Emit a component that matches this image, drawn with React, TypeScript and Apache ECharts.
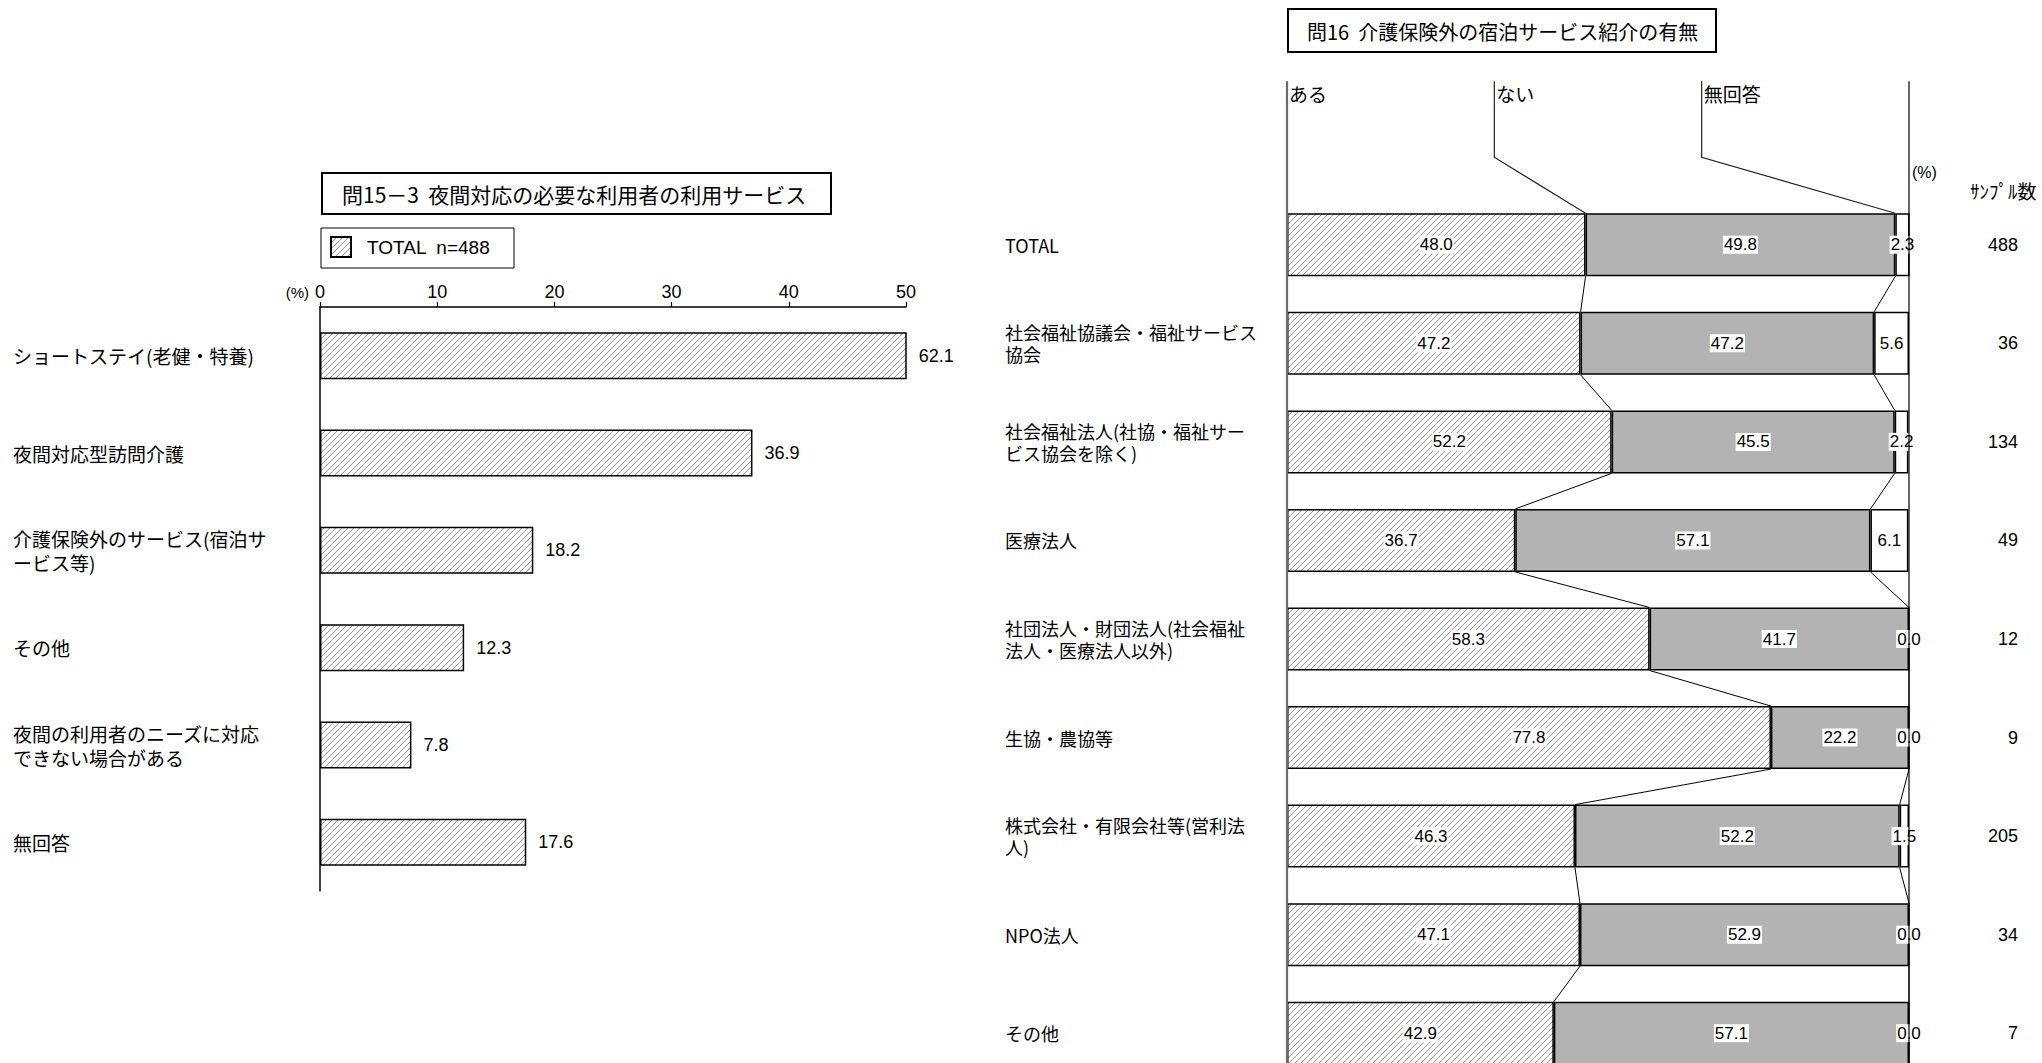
import React, { useEffect, useRef } from 'react';
import * as echarts from 'echarts';

// ---------- Left chart data ----------
const leftTitle = '問15－3  夜間対応の必要な利用者の利用サービス';
const leftCategories = [
  'ショートステイ(老健・特養)',
  '夜間対応型訪問介護',
  '介護保険外のサービス(宿泊サ\nービス等)',
  'その他',
  '夜間の利用者のニーズに対応\nできない場合がある',
  '無回答',
];
const leftValues = [62.1, 36.9, 18.2, 12.3, 7.8, 17.6];
const leftTicks = [0, 10, 20, 30, 40, 50];
const leftSeriesName = 'TOTAL  n=488';

// ---------- Right chart data ----------
const rightTitle = '問16  介護保険外の宿泊サービス紹介の有無';
const rightCategories = [
  'TOTAL',
  '社会福祉協議会・福祉サービス\n協会',
  '社会福祉法人(社協・福祉サー\nビス協会を除く)',
  '医療法人',
  '社団法人・財団法人(社会福祉\n法人・医療法人以外)',
  '生協・農協等',
  '株式会社・有限会社等(営利法\n人)',
  'NPO法人',
  'その他',
];
const rightSeriesNames = ['ある', 'ない', '無回答'];
const rightAru = [48.0, 47.2, 52.2, 36.7, 58.3, 77.8, 46.3, 47.1, 42.9];
const rightNai = [49.8, 47.2, 45.5, 57.1, 41.7, 22.2, 52.2, 52.9, 57.1];
const rightNone = [2.3, 5.6, 2.2, 6.1, 0.0, 0.0, 1.5, 0.0, 0.0];
const rightSample = [488, 36, 134, 49, 12, 9, 205, 34, 7];
const rightSampleTitle = 'ｻﾝﾌﾟﾙ数';

const JP = '"Noto Sans CJK JP", "Noto Sans", sans-serif';
const NUM = '"Liberation Sans", Arial, sans-serif';

const L_BAR = 47;
const R_BAR = 63;

function makeHatch(): HTMLCanvasElement {
  const s = 6;
  const c = document.createElement('canvas');
  c.width = s;
  c.height = s;
  const ctx = c.getContext('2d')!;
  ctx.fillStyle = '#ffffff';
  ctx.fillRect(0, 0, s, s);
  ctx.strokeStyle = '#8f8f8f';
  ctx.lineWidth = 0.9;
  ctx.beginPath();
  ctx.moveTo(0, s);
  ctx.lineTo(s, 0);
  ctx.moveTo(-1, 1);
  ctx.lineTo(1, -1);
  ctx.moveTo(s - 1, s + 1);
  ctx.lineTo(s + 1, s - 1);
  ctx.stroke();
  return c;
}

export default function App() {
  const ref = useRef<HTMLDivElement>(null);

  useEffect(() => {
    if (!ref.current) return;
    const chart = echarts.init(ref.current, undefined, { renderer: 'svg' });
    const hatchCanvas = makeHatch();
    const hatch: any = { image: hatchCanvas, repeat: 'repeat', imageWidth: 6, imageHeight: 6 };

    const n = rightCategories.length;
    const headerPos = [0, 100 / 3, 200 / 3];
    const headerTargets = [0, rightAru[0], rightAru[0] + rightNai[0]];

    const rightLabel = {
      show: true,
      position: 'inside',
      color: '#000',
      fontFamily: NUM,
      fontSize: 17,
      backgroundColor: '#fff',
      padding: [1, 1, 0, 1],
      formatter: (p: any) => Number(p.value).toFixed(1),
    };

    const option: any = {
      animation: false,
      backgroundColor: '#fff',
      textStyle: { fontFamily: JP },
      legend: {
        data: [leftSeriesName],
        left: 330,
        top: 236,
        padding: 0,
        itemWidth: 20,
        itemHeight: 20,
        icon: 'rect',
        textStyle: { fontFamily: NUM, fontSize: 19, color: '#000', padding: [0, 0, 0, 11] },
        selectedMode: false,
      },
      graphic: [
        {
          type: 'rect',
          shape: { x: 322, y: 173, width: 509, height: 41 },
          style: { fill: '#fff', stroke: '#000', lineWidth: 2 },
        },
        {
          type: 'text',
          x: 342,
          y: 194,
          style: {
            text: leftTitle,
            fontSize: 21,
            fontFamily: JP,
            fill: '#000',
            verticalAlign: 'middle',
            textVerticalAlign: 'middle',
          },
        },
        {
          type: 'rect',
          shape: { x: 321, y: 228, width: 193, height: 40 },
          style: { fill: 'none', stroke: '#000', lineWidth: 1 },
        },
        {
          type: 'rect',
          shape: { x: 1288, y: 9, width: 428, height: 43 },
          style: { fill: '#fff', stroke: '#000', lineWidth: 2 },
        },
        {
          type: 'text',
          x: 1307,
          y: 31,
          style: {
            text: rightTitle,
            fontSize: 20,
            fontFamily: JP,
            fill: '#000',
            verticalAlign: 'middle',
            textVerticalAlign: 'middle',
          },
        },
        {
          type: 'text',
          x: 1912,
          y: 172,
          style: {
            text: '(%)',
            fontSize: 16,
            fontFamily: NUM,
            fill: '#000',
            verticalAlign: 'middle',
            textVerticalAlign: 'middle',
          },
        },
        {
          type: 'text',
          x: 1970,
          y: 190,
          style: {
            text: rightSampleTitle,
            fontSize: 19,
            fontFamily: JP,
            fill: '#000',
            verticalAlign: 'middle',
            textVerticalAlign: 'middle',
          },
        },
      ],
      grid: [
        { left: 320, top: 307, width: 586, height: 584, containLabel: false },
        { left: 1287, top: 195.5, width: 622, height: 887, containLabel: false },
      ],
      xAxis: [
        {
          gridIndex: 0,
          type: 'value',
          position: 'top',
          min: leftTicks[0],
          max: leftTicks[leftTicks.length - 1],
          interval: leftTicks[1] - leftTicks[0],
          axisLine: { show: true, lineStyle: { color: '#000', width: 1.5 } },
          axisTick: { show: true, length: 5, lineStyle: { color: '#000', width: 1.2 } },
          axisLabel: { margin: 6, fontFamily: NUM, fontSize: 18, color: '#000' },
          splitLine: { show: false },
          name: '(%)',
          nameLocation: 'start',
          nameGap: 11,
          nameTextStyle: {
            fontFamily: NUM,
            fontSize: 15,
            color: '#000',
            verticalAlign: 'bottom',
            align: 'right',
            padding: [0, 0, 7, 0],
          },
        },
        {
          gridIndex: 1,
          type: 'value',
          min: 0,
          max: 100,
          show: false,
        },
      ],
      yAxis: [
        {
          gridIndex: 0,
          type: 'category',
          inverse: true,
          data: leftCategories,
          axisLine: { show: true, lineStyle: { color: '#000', width: 1.5 } },
          axisTick: { show: false },
          axisLabel: {
            margin: 307,
            align: 'left',
            fontFamily: JP,
            fontSize: 19,
            lineHeight: 24,
            color: '#000',
          },
          splitLine: { show: false },
        },
        {
          gridIndex: 1,
          type: 'category',
          inverse: true,
          data: rightCategories,
          axisLine: { show: false },
          axisTick: { show: false },
          axisLabel: {
            margin: 282,
            align: 'left',
            fontFamily: JP,
            fontSize: 18,
            lineHeight: 22,
            color: '#000',
          },
          splitLine: { show: false },
        },
        {
          gridIndex: 1,
          type: 'category',
          inverse: true,
          position: 'right',
          data: rightSample.map(String),
          axisLine: { show: false },
          axisTick: { show: false },
          axisLabel: {
            margin: 109,
            align: 'right',
            fontFamily: NUM,
            fontSize: 18,
            color: '#000',
          },
          splitLine: { show: false },
        },
      ],
      series: [
        {
          name: leftSeriesName,
          type: 'bar',
          xAxisIndex: 0,
          yAxisIndex: 0,
          data: leftValues,
          barWidth: L_BAR,
          itemStyle: { color: hatch, borderColor: '#000', borderWidth: 1.5 },
          label: {
            show: true,
            position: 'right',
            distance: 12,
            color: '#000',
            fontFamily: NUM,
            fontSize: 18,
            formatter: (p: any) => Number(p.value).toFixed(1),
          },
        },
        {
          name: rightSeriesNames[0],
          type: 'bar',
          stack: 'r',
          xAxisIndex: 1,
          yAxisIndex: 1,
          data: rightAru,
          barWidth: R_BAR,
          itemStyle: { color: hatch, borderColor: '#000', borderWidth: 1.5 },
          label: rightLabel,
        },
        {
          name: rightSeriesNames[1],
          type: 'bar',
          stack: 'r',
          xAxisIndex: 1,
          yAxisIndex: 1,
          data: rightNai,
          barWidth: R_BAR,
          itemStyle: { color: '#b3b3b3', borderColor: '#000', borderWidth: 1.5 },
          label: rightLabel,
        },
        {
          name: rightSeriesNames[2],
          type: 'bar',
          stack: 'r',
          xAxisIndex: 1,
          yAxisIndex: 1,
          data: rightNone,
          barWidth: R_BAR,
          itemStyle: { color: '#ffffff', borderColor: '#000', borderWidth: 1.5 },
          label: rightLabel,
        },
        {
          type: 'custom',
          xAxisIndex: 1,
          yAxisIndex: 1,
          z: 5,
          silent: true,
          data: rightCategories.map((_, i) => [0, i]),
          encode: { x: 0, y: 1 },
          renderItem: (params: any, api: any) => {
            const i = params.dataIndex;
            const half = R_BAR / 2;
            const cs = params.coordSys;
            const children: any[] = [];
            const conn = { stroke: '#000', lineWidth: 1, fill: 'none' };
            if (i < n - 1) {
              const bA = [rightAru[i], rightAru[i] + rightNai[i]];
              const bB = [rightAru[i + 1], rightAru[i + 1] + rightNai[i + 1]];
              for (let k = 0; k < 2; k++) {
                const p = api.coord([bA[k], i]);
                const q = api.coord([bB[k], i + 1]);
                children.push({
                  type: 'line',
                  shape: { x1: p[0], y1: p[1] + half, x2: q[0], y2: q[1] - half },
                  style: conn,
                });
              }
            }
            if (i === 0) {
              const c0 = api.coord([0, 0]);
              const barTop = c0[1] - half;
              const headTop = barTop - 132;
              const bend = barTop - 56;
              const bottom = cs.y + cs.height;
              const x0 = c0[0];
              const x100 = api.coord([100, 0])[0];
              children.push({
                type: 'line',
                shape: { x1: x0, y1: headTop, x2: x0, y2: bottom },
                style: { stroke: '#6b6b6b', lineWidth: 2.2 },
              });
              children.push({
                type: 'line',
                shape: { x1: x100, y1: headTop, x2: x100, y2: bottom },
                style: { stroke: '#000', lineWidth: 1.2 },
              });
              for (let k = 0; k < 3; k++) {
                const xk = api.coord([headerPos[k], 0])[0];
                const tx = api.coord([headerTargets[k], 0])[0];
                if (k > 0) {
                  children.push({
                    type: 'polyline',
                    shape: { points: [[xk, headTop], [xk, bend], [tx, barTop]] },
                    style: { stroke: '#222', lineWidth: 1.2, fill: 'none' },
                  });
                }
                children.push({
                  type: 'text',
                  x: xk + 2,
                  y: headTop + 12,
                  style: {
                    text: rightSeriesNames[k],
                    fontSize: 19,
                    fontFamily: JP,
                    fill: '#000',
                    verticalAlign: 'middle',
                    textVerticalAlign: 'middle',
                  },
                });
              }
            }
            return { type: 'group', children };
          },
        },
      ],
    };

    chart.setOption(option);
    return () => {
      chart.dispose();
    };
  }, []);

  return (
    <div
      ref={ref}
      style={{ position: 'fixed', left: 0, top: 0, width: '2042px', height: '1100px', background: '#fff' }}
    />
  );
}
